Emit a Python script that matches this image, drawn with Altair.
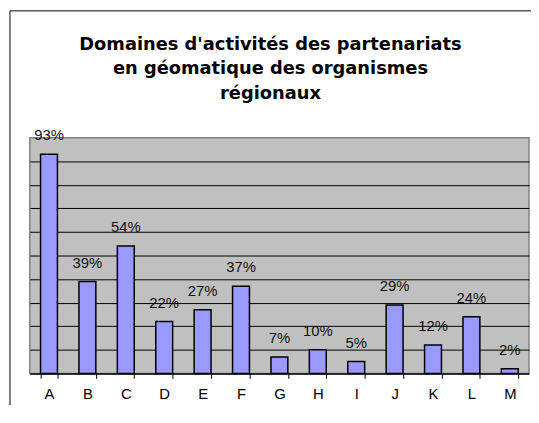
import altair as alt
import pandas as pd

categories = ["A", "B", "C", "D", "E", "F", "G", "H", "I", "J", "K", "L", "M"]
values = [0.93, 0.39, 0.54, 0.22, 0.27, 0.37, 0.07, 0.10, 0.05, 0.29, 0.12, 0.24, 0.02]
labels = ["93%", "39%", "54%", "22%", "27%", "37%", "7%", "10%", "5%", "29%", "12%", "24%", "2%"]
title_lines = ["Domaines d'activités des partenariats",
               "en géomatique des organismes",
               "régionaux"]

df = pd.DataFrame({"cat": categories, "val": values, "lab": labels})

W, H = 504, 238
FONT = "Liberation Sans"

x_enc = alt.X("cat:N", sort=categories,
              scale=alt.Scale(paddingInner=0.56, paddingOuter=0.28),
              axis=alt.Axis(title=None, labelAngle=0, labelFont=FONT, labelFontSize=15,
                            labelColor="black", labelPadding=8, tickColor="black",
                            tickSize=5, tickBand="extent", domainColor="black",
                            domainWidth=1.5, grid=False))
y_enc = alt.Y("val:Q", scale=alt.Scale(domain=[0, 1], nice=False),
              axis=alt.Axis(title=None, labels=False, ticks=False, domain=False,
                            values=[0.1, 0.2, 0.3, 0.4, 0.5, 0.6, 0.7, 0.8, 0.9],
                            grid=True, gridColor="black", gridWidth=1, gridOpacity=1))

bars = alt.Chart(df).mark_bar(color="#9999FF", stroke="black", strokeWidth=1.5).encode(
    x=x_enc, y=y_enc)

text = alt.Chart(df).mark_text(font=FONT, fontSize=15, color="#111111",
                               baseline="middle", dy=-19).encode(
    x=x_enc, y=y_enc, text="lab:N")

one = alt.Data(values=[{"k": 1}])
frame_left = alt.Chart(one).mark_rule(color="black", strokeWidth=1).encode(
    x=alt.value(-20), y=alt.value(-128), y2=alt.value(H + 40))
frame_top = alt.Chart(one).mark_rule(color="black", strokeWidth=1).encode(
    x=alt.value(-20), x2=alt.value(W + 10), y=alt.value(-128))
title = alt.Chart(one).mark_text(text=title_lines, font="DejaVu Sans", fontSize=18,
                                 fontWeight="bold", color="black", lineHeight=25,
                                 align="center", baseline="middle").encode(
    x=alt.value(W / 2 - 9), y=alt.value(-94))

chart = alt.layer(bars, text, frame_left, frame_top, title).properties(
    width=W, height=H,
    autosize=alt.AutoSizeParams(type="none"),
    padding={"left": 22, "top": 129, "right": 2, "bottom": 30},
).configure(background="white").configure_view(
    fill="#C0C0C0", stroke="#808080", strokeWidth=1.5)

chart.save("out.html", embed_options={"renderer": "svg", "actions": False})
